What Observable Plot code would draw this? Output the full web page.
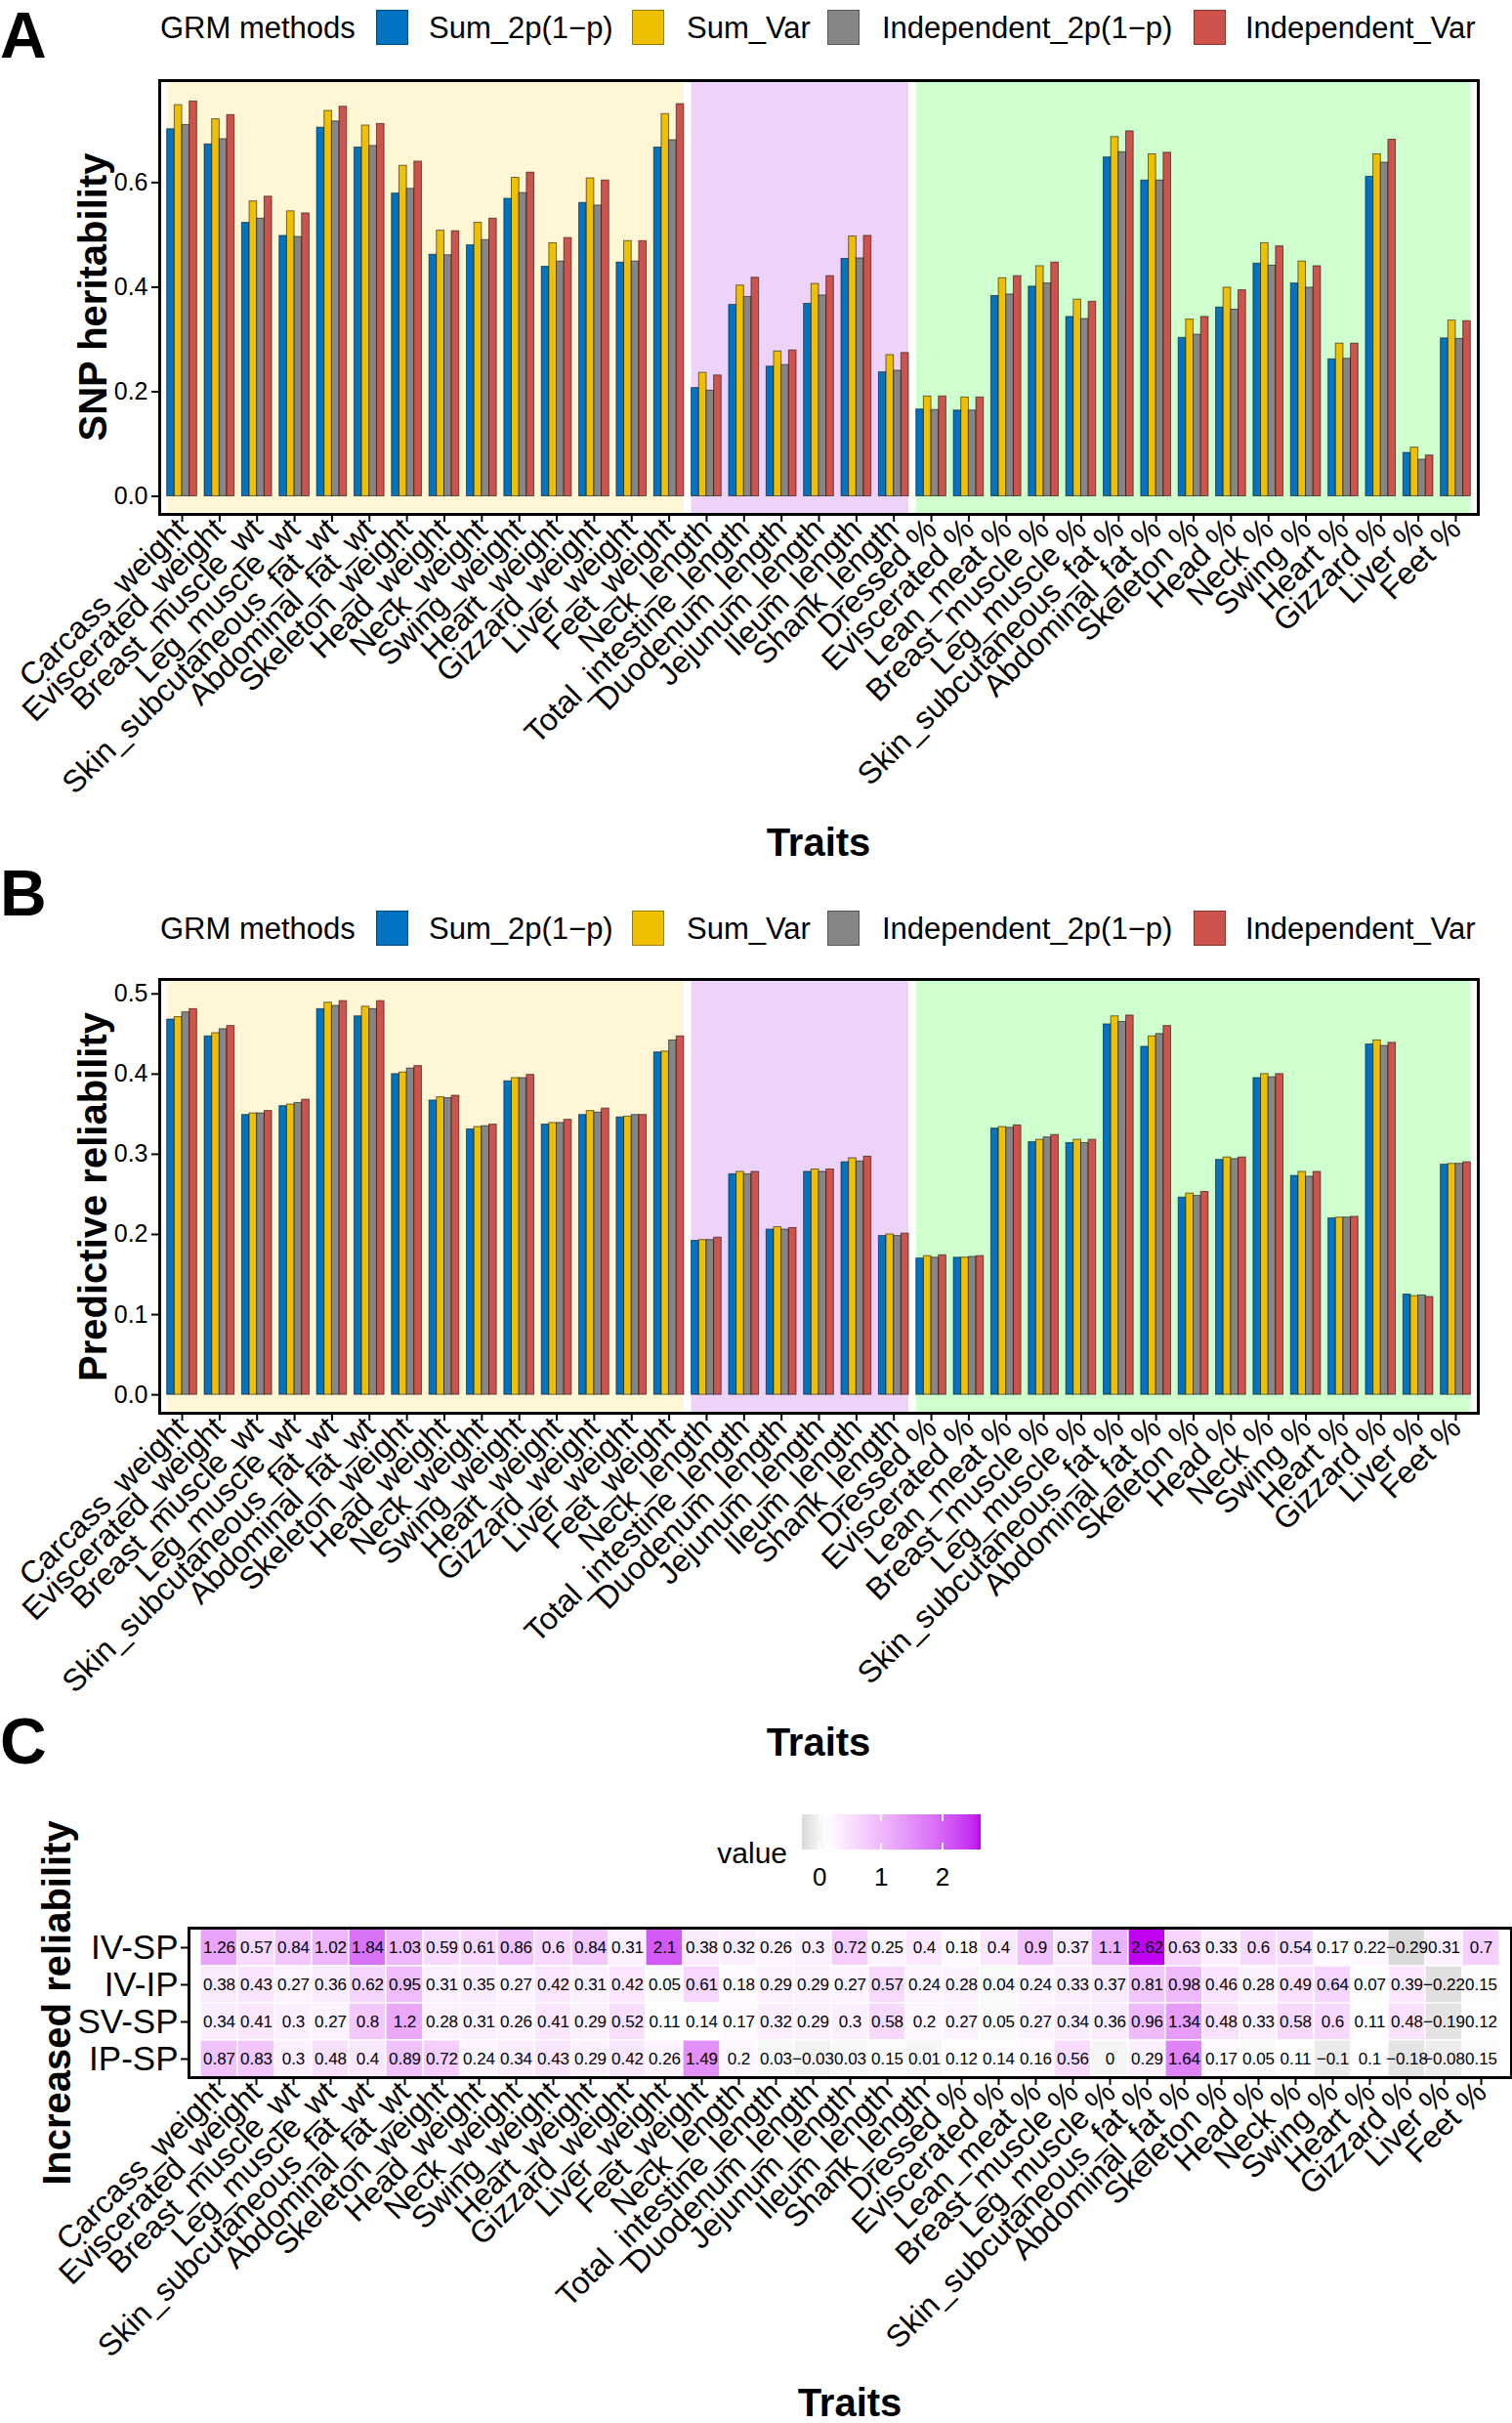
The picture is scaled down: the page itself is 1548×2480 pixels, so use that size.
<!DOCTYPE html>
<html><head><meta charset="utf-8">
<script src="https://cdn.jsdelivr.net/npm/d3@7"></script>
<script src="https://cdn.jsdelivr.net/npm/@observablehq/plot@0.6"></script>
<style>
body{margin:0;background:#fff;}
#page{position:relative;width:1548px;height:2480px;font-family:"Liberation Sans",Arial,Helvetica,sans-serif;color:#000;overflow:hidden;background:#fff}
.abs{position:absolute;white-space:nowrap;line-height:1}
#page svg{position:absolute;left:0}
</style></head><body><div id="page"></div>
<script>
// ---------------- DATA ----------------
const traits = ["Carcass_weight","Eviscerated_weight","Breast_muscle_wt","Leg_muscle_wt","Skin_subcutaneous_fat_wt","Abdominal_fat_wt","Skeleton_weight","Head_weight","Neck_weight","Swing_weight","Heart_weight","Gizzard_weight","Liver_weight","Feet_weight",
"Neck_length","Total_intestine_length","Duodenum_length","Jejunum_length","Ileum_length","Shank_length",
"Dressed %","Eviscerated %","Lean_meat %","Breast_muscle %","Leg_muscle %","Skin_subcutaneous_fat %","Abdominal_fat %","Skeleton %","Head %","Neck %","Swing %","Heart %","Gizzard %","Liver %","Feet %"];
const groupNames = ["weight","length","percentage"];
const groupSizes = [14, 6, 15];
const methods = ["Sum_2p(1\u2212p)","Sum_Var","Independent_2p(1\u2212p)","Independent_Var"];

// Panel A: SNP heritability
const herit_Sum2p = [0.702,0.673,0.523,0.498,0.705,0.667,0.579,0.462,0.480,0.569,0.439,0.561,0.447,0.667,0.207,0.366,0.248,0.368,0.454,0.237,0.166,0.164,0.383,0.401,0.343,0.648,0.604,0.303,0.361,0.445,0.407,0.262,0.611,0.083,0.302];
const herit_SumVar = [0.748,0.721,0.564,0.545,0.737,0.709,0.632,0.508,0.523,0.609,0.484,0.608,0.488,0.731,0.236,0.403,0.277,0.406,0.497,0.270,0.191,0.189,0.417,0.440,0.376,0.687,0.654,0.338,0.399,0.484,0.449,0.292,0.654,0.093,0.336];
const herit_Ind2p = [0.710,0.683,0.531,0.496,0.717,0.670,0.588,0.461,0.490,0.580,0.449,0.556,0.449,0.681,0.202,0.381,0.251,0.384,0.455,0.240,0.165,0.164,0.386,0.407,0.339,0.658,0.604,0.309,0.357,0.441,0.399,0.263,0.638,0.070,0.301];
const herit_IndVar = [0.755,0.729,0.573,0.541,0.745,0.712,0.640,0.507,0.531,0.619,0.494,0.604,0.488,0.750,0.231,0.418,0.279,0.421,0.498,0.274,0.191,0.189,0.421,0.447,0.372,0.698,0.657,0.343,0.394,0.478,0.440,0.292,0.682,0.078,0.335];

// Panel B: predictive reliability
const rel_Sum2p = [0.468,0.447,0.349,0.360,0.481,0.472,0.400,0.367,0.331,0.391,0.337,0.349,0.346,0.427,0.192,0.275,0.206,0.278,0.290,0.198,0.170,0.171,0.332,0.315,0.314,0.462,0.434,0.246,0.293,0.395,0.273,0.220,0.437,0.125,0.287];
const rel_SumVar = [0.471,0.451,0.351,0.362,0.489,0.484,0.402,0.371,0.334,0.395,0.339,0.354,0.347,0.428,0.193,0.278,0.209,0.281,0.295,0.200,0.173,0.171,0.334,0.318,0.318,0.472,0.447,0.251,0.296,0.400,0.278,0.221,0.442,0.123,0.288];
const rel_Ind2p = [0.477,0.456,0.351,0.364,0.485,0.481,0.407,0.370,0.335,0.395,0.339,0.352,0.349,0.442,0.193,0.275,0.206,0.278,0.291,0.198,0.171,0.172,0.333,0.321,0.314,0.465,0.450,0.248,0.294,0.396,0.272,0.221,0.435,0.124,0.288];
const rel_IndVar = [0.481,0.460,0.354,0.368,0.491,0.491,0.410,0.373,0.337,0.399,0.343,0.357,0.349,0.447,0.196,0.278,0.208,0.281,0.297,0.201,0.174,0.173,0.336,0.324,0.318,0.473,0.460,0.253,0.296,0.400,0.278,0.222,0.439,0.122,0.290];

// Panel C: increased reliability
const comparisons = ["IV-SP","IV-IP","SV-SP","IP-SP"];
const inc_IV_SP = [1.26,0.57,0.84,1.02,1.84,1.03,0.59,0.61,0.86,0.6,0.84,0.31,2.1,0.38,0.32,0.26,0.3,0.72,0.25,0.4,0.18,0.4,0.9,0.37,1.1,2.62,0.63,0.33,0.6,0.54,0.17,0.22,-0.29,0.31,0.7];
const inc_IV_IP = [0.38,0.43,0.27,0.36,0.62,0.95,0.31,0.35,0.27,0.42,0.31,0.42,0.05,0.61,0.18,0.29,0.29,0.27,0.57,0.24,0.28,0.04,0.24,0.33,0.37,0.81,0.98,0.46,0.28,0.49,0.64,0.07,0.39,-0.22,0.15];
const inc_SV_SP = [0.34,0.41,0.3,0.27,0.8,1.2,0.28,0.31,0.26,0.41,0.29,0.52,0.11,0.14,0.17,0.32,0.29,0.3,0.58,0.2,0.27,0.05,0.27,0.34,0.36,0.96,1.34,0.48,0.33,0.58,0.6,0.11,0.48,-0.19,0.12];
const inc_IP_SP = [0.87,0.83,0.3,0.48,0.4,0.89,0.72,0.24,0.34,0.43,0.29,0.42,0.26,1.49,0.2,0.03,-0.03,0.03,0.15,0.01,0.12,0.14,0.16,0.56,0,0.29,1.64,0.17,0.05,0.11,-0.1,0.1,-0.18,-0.08,0.15];

const yTicksA = [0, 0.2, 0.4, 0.6];
const yTicksB = [0, 0.1, 0.2, 0.3, 0.4, 0.5];
const legendTicks = [0, 1, 2];

// ---------------- STYLE ----------------
const methodColors = ["#0073C2","#EFC000","#868686","#CD534C"];
const bandColors = ["#FFF6D6","#EDD3FA","#CFFFCF"];
const heatColors = ["#D9D9D9","#FFFFFF","#C000F2"];
const heatWhiteAt = 0.1;
const FONT = '"Liberation Sans", Arial, Helvetica, sans-serif';
const XTICK_FONT = 32;

const page = document.getElementById("page");
function label(text, x, y, size, {bold=false, anchor="start", rotate=0}={}) {
  const d = document.createElement("div");
  d.className = "abs"; d.textContent = text;
  d.style.fontSize = size + "px";
  if (bold) d.style.fontWeight = "bold";
  d.style.left = x + "px"; d.style.top = y + "px";
  const tx = anchor === "middle" ? "-50%" : anchor === "end" ? "-100%" : "0";
  d.style.transform = `translate(${tx},-50%)` + (rotate ? ` rotate(${rotate}deg)` : "");
  page.appendChild(d);
  return d;
}
function box(x, y, w, h, css) {
  const d = document.createElement("div");
  d.style.position = "absolute"; d.style.left = x + "px"; d.style.top = y + "px";
  d.style.width = w + "px"; d.style.height = h + "px";
  Object.assign(d.style, css);
  page.appendChild(d);
  return d;
}

// category bands
let s0 = 1;
const groups = groupSizes.map((n, k) => { const g = {name: groupNames[k], start: s0, end: s0 + n - 1}; s0 += n; return g; });

function barChart(series, yDomain, yTicks, top) {
  const rows = [];
  traits.forEach((t, i) => series.forEach((s, j) => rows.push({trait: t, idx: i + 1, mi: j, method: methods[j], value: s[i]})));
  const mTop = 22, panelH = 444, mBottom = 300;
  const chart = Plot.plot({
    width: 1548, height: mTop + panelH + mBottom,
    marginTop: mTop, marginBottom: mBottom, marginLeft: 163, marginRight: 35,
    style: {fontFamily: FONT, color: "black", background: "transparent", overflow: "visible"},
    x: {type: "linear", domain: [0.4, traits.length + 0.6]},
    y: {domain: yDomain},
    color: {domain: methods, range: methodColors},
    marks: [
      ...groups.map((g, k) => Plot.rect([g], {x1: d => d.start - 0.4, x2: d => d.end + 0.4, fill: bandColors[k]})),
      Plot.rect(rows, {x1: d => d.idx - 0.4 + 0.2 * d.mi, x2: d => d.idx - 0.2 + 0.2 * d.mi, y1: d => 0, y2: "value",
        fill: "method", stroke: "black", strokeOpacity: 0.55, strokeWidth: 1}),
      Plot.frame({stroke: "black", strokeWidth: 3}),
      Plot.axisX({ticks: d3.range(1, traits.length + 1), tickFormat: i => traits[i - 1], tickRotate: -45,
        fontSize: XTICK_FONT, tickSize: 8, strokeWidth: 2, tickPadding: 2, label: null}),
      Plot.axisY({ticks: yTicks, tickFormat: d3.format(".1f"), fontSize: 25, tickSize: 8, strokeWidth: 2, tickPadding: 4, label: null})
    ]
  });
  chart.style.top = (top - mTop) + "px";
  page.appendChild(chart);
  return chart;
}

function methodLegend(yc) {
  label("GRM methods", 164, yc, 31);
  const sw = [385, 647, 847, 1222], tx = [439, 703, 903, 1275];
  methods.forEach((m, j) => {
    box(sw[j], yc - 18, 33, 36, {background: methodColors[j], boxSizing: "border-box", border: "1.5px solid rgba(0,0,0,0.35)"});
    label(m, tx[j], yc, 31);
  });
}

// Panel A
barChart([herit_Sum2p, herit_SumVar, herit_Ind2p, herit_IndVar], [-0.0346, 0.795], yTicksA, 82);
label("A", 0, 36, 66, {bold: true});
methodLegend(28);
label("SNP heritability", 95, 304, 40, {bold: true, anchor: "middle", rotate: -90});
label("Traits", 838, 862, 40, {bold: true, anchor: "middle"});

// Panel B
barChart([rel_Sum2p, rel_SumVar, rel_Ind2p, rel_IndVar], [-0.023, 0.518], yTicksB, 1002);
label("B", 0, 914, 66, {bold: true});
methodLegend(950);
label("Predictive reliability", 95, 1225, 40, {bold: true, anchor: "middle", rotate: -90});
label("Traits", 838, 1783, 40, {bold: true, anchor: "middle"});

// Panel C heatmap
const incSeries = [inc_IV_SP, inc_IV_IP, inc_SV_SP, inc_IP_SP];
const hm = [];
comparisons.forEach((c, r) => traits.forEach((t, i) => hm.push({trait: t, cmp: c, value: incSeries[r][i]})));
const lo = d3.min(hm, d => d.value), hi = d3.max(hm, d => d.value);
const fmt = v => String(v).replace("-", "\u2212");
const hTop = 20, hH = 153, hBottom = 300;
const chartC = Plot.plot({
  width: 1548, height: hTop + hH + hBottom,
  marginTop: hTop, marginBottom: hBottom, marginLeft: 193, marginRight: 1,
  style: {fontFamily: FONT, color: "black", background: "transparent", overflow: "visible"},
  x: {domain: traits, padding: 0},
  y: {domain: comparisons, padding: 0},
  color: {type: "linear", domain: [lo, heatWhiteAt, hi], range: heatColors, interpolate: "lab"},
  marks: [
    Plot.cell(hm, {x: "trait", y: "cmp", fill: "value", stroke: "white", strokeWidth: 1.2}),
    Plot.text(hm, {x: "trait", y: "cmp", text: d => fmt(d.value), fontSize: 17, fill: "black"}),
    Plot.frame({stroke: "black", strokeWidth: 3}),
    Plot.axisX({tickRotate: -45, fontSize: XTICK_FONT, tickSize: 8, strokeWidth: 2, tickPadding: 2, label: null}),
    Plot.axisY({fontSize: 35, tickSize: 8, strokeWidth: 2, tickPadding: 3, label: null})
  ]
});
chartC.style.top = (1973 - hTop) + "px";
page.appendChild(chartC);
label("C", 0, 1782, 66, {bold: true});
label("Increased reliability", 58, 2050, 40, {bold: true, anchor: "middle", rotate: -90});
label("Traits", 870, 2459, 40, {bold: true, anchor: "middle"});

// colour bar legend built from the heatmap's colour scale
const cs = chartC.scale("color");
const rampX = 821, rampW = 183, rampY = 1857, rampH = 36;
const stops = d3.range(0, 41).map(k => { const v = lo + (hi - lo) * k / 40; return `${cs.apply(v)} ${(k / 40 * 100).toFixed(2)}%`; });
box(rampX, rampY, rampW, rampH, {background: `linear-gradient(to right, ${stops.join(",")})`});
const lx = v => rampX + (v - lo) / (hi - lo) * rampW;
legendTicks.forEach(v => {
  box(lx(v) - 1, rampY, 2, 7, {background: "white"});
  box(lx(v) - 1, rampY + rampH - 7, 2, 7, {background: "white"});
  label(String(v), lx(v), 1921, 26, {anchor: "middle"});
});
label("value", 806, 1897, 30, {anchor: "end"});
</script></body></html>
